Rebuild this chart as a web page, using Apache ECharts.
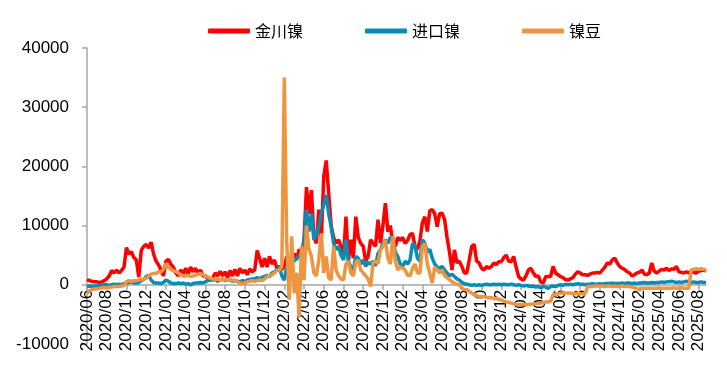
<!DOCTYPE html>
<html><head><meta charset="utf-8">
<script src="https://cdn.jsdelivr.net/npm/echarts@6/dist/echarts.min.js"></script>
<style>html,body{margin:0;padding:0;background:#fff}#c{width:727px;height:373px}</style>
</head><body><div id="c"></div>
<script>
// month labels (4 weekly samples per month)
const months = ['2020/06','2020/07','2020/08','2020/09','2020/10','2020/11','2020/12',
'2021/01','2021/02','2021/03','2021/04','2021/05','2021/06','2021/07','2021/08','2021/09','2021/10','2021/11','2021/12',
'2022/01','2022/02','2022/03','2022/04','2022/05','2022/06','2022/07','2022/08','2022/09','2022/10','2022/11','2022/12',
'2023/01','2023/02','2023/03','2023/04','2023/05','2023/06','2023/07','2023/08','2023/09','2023/10','2023/11','2023/12',
'2024/01','2024/02','2024/03','2024/04','2024/05','2024/06','2024/07','2024/08','2024/09','2024/10','2024/11','2024/12',
'2025/01','2025/02','2025/03','2025/04','2025/05','2025/06','2025/07','2025/08'];
const weeks = ['W1','W2','W3','W4'];
const seriesNames = ['金川镍','进口镍','镍豆'];

const jinchuan = [
900,700,600,500, 500,400,500,700, 1000,1500,2400,2000, 2500,2000,2400,3000,
6300,5200,5600,4600, 4200,1300,5800,6500, 6800,6200,7200,5200,
4000,3400,2500,1500, 4000,4300,3500,3000, 2000,1500,2500,1800, 2800,1800,3000,2200,
2800,2000,2500,1500, 1500,1000,800,1200, 2000,1500,2300,1500, 2200,1200,2400,1500,
2600,1500,2800,2000, 2500,1700,2700,2200, 2500,5800,4500,3000, 4500,3000,4800,3500,
4200,2800,3100,2600, 3100,4800,3600,4200, 5300,4200,6000,5300, 7600,16500,12000,16000,
8000,7000,12700,7500, 18300,21000,15500,10000, 8000,7000,7600,6500, 4500,11500,4000,7600,
4500,11500,8000,7000, 6500,4000,4800,7600, 7000,6500,11000,7000, 10000,13800,9000,10000,
7000,6500,8000,7500, 8000,7000,7500,8500, 8700,6500,6000,7500, 10500,11500,9000,12500,
12700,12000,9800,12000, 12100,11000,8000,5500, 2500,5900,3700,4000, 3100,2000,2000,4200,
6500,6800,4000,3700, 2800,2500,3100,2800, 3100,3700,3400,3900, 3900,4600,5000,4000,
3900,4800,3000,1400, 1000,800,1500,2500, 2800,2000,1400,1500, 500,300,1400,1400,
1400,3100,2000,1700, 1400,1200,900,800, 1000,1200,1800,2200, 2000,1700,1700,1600,
1800,2000,2000,2100, 2000,2500,3000,3700, 3500,4200,4500,3700, 3100,2800,2600,2200,
2000,1500,1700,2000, 2100,2500,1800,1700, 2000,3700,2300,2000, 2300,2600,2500,2800,
2400,2700,2600,3100, 2200,2100,2000,2200, 2000,2300,2100,2000, 2300,2400,2500,2300];

const imported = [
-300,-200,-300,-200, -200,-100,-100,0, 0,-100,0,100, 0,100,0,200,
300,400,500,300, 300,400,700,900, 1400,1600,800,400,
300,300,200,400, 800,600,300,200, 200,300,200,300, 100,200,0,200,
300,300,400,300, 500,700,800,800, 900,600,800,1000, 700,900,800,600,
700,600,500,700, 600,800,900,1000, 1000,1200,1000,1300, 1400,1600,1400,2000,
2200,2500,3100,1500, 800,3100,3600,4200, 4000,4500,4800,5500, 7000,12700,9000,12000,
7600,8500,9800,12000, 13500,15200,12000,9800, 7000,5900,6500,5000, 4200,7600,4000,3000,
2500,4800,4500,3500, 4200,3100,3800,3500, 4000,3200,5300,5900, 7000,7600,7000,8000,
8000,5500,4800,3500, 3100,4000,3500,4200, 7000,6500,4500,4000, 7600,7000,5500,6000,
4500,3500,3000,2800, 3100,2500,2000,1500, 1800,1400,1000,800, 400,200,100,0,
-100,0,-100,0, -100,0,100,0, 0,100,0,100, 0,100,0,0,
100,0,-100,0, -100,-200,-100,-200, -300,-200,-400,-300, -500,-300,-400,-600,
-300,-200,-300,-100, 0,-100,100,0, 100,0,100,200, 100,100,0,100,
100,200,100,100, 200,100,200,200, 200,300,200,200, 200,300,200,300,
300,200,300,200, 300,300,400,300, 300,400,300,400, 400,500,400,500,
500,600,500,400, 500,400,500,600, 500,400,500,400, 400,500,400,400];

const beans = [
-1500,-1000,-800,-700, -700,-600,-500,-500, -500,-400,-400,-300, -300,-300,-200,-100,
500,700,600,700, 700,800,900,1000, 1100,1500,1800,1900,
1900,2200,2200,2600, 3600,3000,2600,2400, 2200,2000,1700,1500, 1500,1600,1400,1500,
1600,1800,1900,1700, 1500,1300,1100,1000, 900,1000,800,900, 900,800,900,700,
800,500,300,200, 300,500,600,700, 600,700,800,700, 1000,1400,1600,1700,
2000,2400,2500,3100, 35000,7000,-2500,8200, -1400,2000,-5500,6500, 800,10000,6000,4800,
2000,1500,4200,8700, 2000,4800,1200,800, 6500,2500,1500,1000, 800,3500,4000,2000,
1500,3800,4200,2500, 2000,1500,1000,-300, 3800,4000,3600,5900, 6500,7600,4500,3500,
8200,4000,2500,3000, 2800,2500,1600,1500, 2800,3500,2000,2000, 6500,7000,3500,2000,
300,3000,2500,2000, 2500,1500,1200,900, 500,300,100,0, -600,-800,-800,-1100,
-1400,-1700,-1800,-2000, -2000,-2000,-2100,-2200, -2200,-2300,-2300,-2500, -2500,-2800,-2900,-3000,
-3100,-3200,-3300,-3400, -3300,-3300,-3400,-3300, -3300,-3200,-3200,-3100, -3100,-3000,-2900,-2900,
-2800,-1700,-1600,-1500, -1400,-1400,-1400,-1400, -1400,-1500,-1400,-1500, -1500,-1500,-1500,-300,
-300,-300,-200,-200, -200,-200,-300,-200, -200,-300,-200,-300, -300,-200,-300,-300,
-300,-400,-500,-600, -900,-600,-600,-600, -600,-600,-600,-600, -600,-600,-600,-600,
-600,-600,-500,-600, -600,-500,-600,-600, -600,2500,2600,2700, 2600,2700,2600,2500];

const yTicks = {min:-10000, max:40000, interval:10000};

const categories = [];
months.forEach(m => weeks.forEach(w => categories.push(m + ' ' + w)));
const showIdx = (i) => i % 8 === 0;

// grid geometry: zero line sits 1/5 of plot height above bottom
const gridTop = 48, gridBottom = 29, chartH = 373;
const plotH = chartH - gridTop - gridBottom;
const zeroOffset = -plotH * (0 - yTicks.min) / (yTicks.max - yTicks.min);

const colors = ['#FF0000', '#0A8DB5', '#EF9540'];
const chart = echarts.init(document.getElementById('c'), null, {renderer:'canvas'});
chart.setOption({
  animation:false,
  color: colors,
  textStyle:{fontFamily:'"Liberation Sans", Arial, "Noto Sans CJK SC", sans-serif'},
  legend:{
    data: seriesNames, left:208, top:23, icon:'roundRect', itemWidth:42, itemHeight:5,
    itemGap:62, padding:0, textStyle:{fontSize:16, color:'#000', fontFamily:'"Noto Sans CJK SC", sans-serif'}
  },
  grid:{left:87, right:21, top:gridTop, bottom:gridBottom, containLabel:false, outerBoundsMode:'none'},
  xAxis:{
    type:'category', data:categories, boundaryGap:false, position:'bottom', offset:zeroOffset,
    axisLine:{onZero:false, lineStyle:{color:'#A6A6A6', width:1.5}},
    axisTick:{show:true, interval:(i)=>showIdx(i), length:5, lineStyle:{color:'#A6A6A6', width:1.5}},
    axisLabel:{interval:(i)=>showIdx(i), rotate:90, margin:5, color:'#000', fontSize:17,
      formatter:(v)=>v.slice(0,7)},
    splitLine:{show:false}
  },
  yAxis:{
    type:'value', min:yTicks.min, max:yTicks.max, interval:yTicks.interval,
    axisLine:{show:true, lineStyle:{color:'#A6A6A6', width:1.5}},
    axisTick:{show:true, length:5, lineStyle:{color:'#A6A6A6', width:1.5}},
    axisLabel:{color:'#000', fontSize:17, margin:18, formatter:(v)=>String(v)},
    splitLine:{show:false}
  },
  series:[
    {name:seriesNames[0], type:'line', data:jinchuan, showSymbol:false, symbol:'none', lineStyle:{width:3.5}},
    {name:seriesNames[1], type:'line', data:imported, showSymbol:false, symbol:'none', lineStyle:{width:3.5}},
    {name:seriesNames[2], type:'line', data:beans, showSymbol:false, symbol:'none', lineStyle:{width:3.5}}
  ]
});
</script></body></html>
